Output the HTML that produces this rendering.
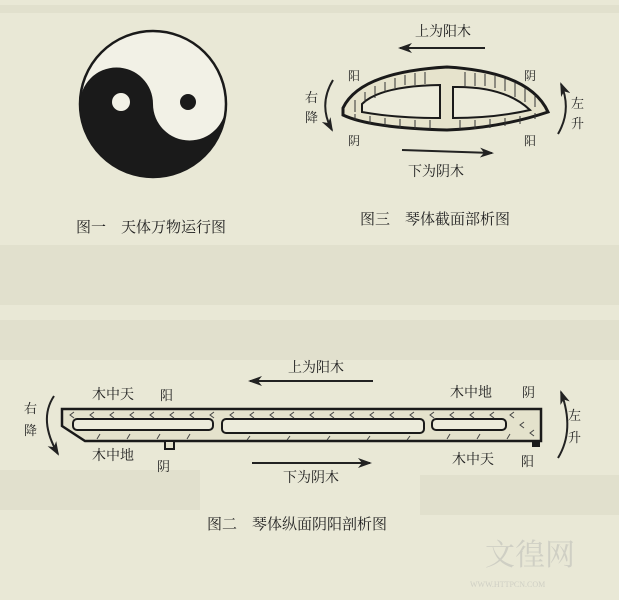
<!DOCTYPE html>
<html><head><meta charset="utf-8"><style>
html,body{margin:0;padding:0;background:#e9e8d6;}
svg{display:block}
text{font-family:"Liberation Serif","Noto Serif CJK SC","Noto Sans CJK SC",serif;fill:#222;}
</style></head><body>
<svg width="619" height="600" viewBox="0 0 619 600" xmlns="http://www.w3.org/2000/svg">
<defs>
<marker id="al" markerUnits="userSpaceOnUse" markerWidth="14" markerHeight="10" refX="12" refY="5" orient="auto"><path d="M0,0 L14,5 L0,10 L4,5 Z" fill="#222"/></marker>
</defs>
<rect width="619" height="600" fill="#e9e8d6"/>
<g fill="#e1e0cd">
<rect x="0" y="5" width="619" height="8"/>
<rect x="0" y="245" width="619" height="60"/><rect x="0" y="320" width="619" height="40"/>
<rect x="420" y="475" width="199" height="40"/><rect x="0" y="470" width="200" height="40"/>
</g>
<!-- Fig 1 yin yang -->
<g transform="translate(153,104)">
<circle r="73" fill="#f2f1e6" stroke="#1a1a1a" stroke-width="2.5"/>
<path d="M-73,0 A73,73 0 0 0 73,0 A36.5,36.5 0 0 1 0,0 A36.5,36.5 0 0 0 -73,0 Z" fill="#1a1a1a"/>
<circle cx="-32" cy="-2" r="9" fill="#f2f1e6"/>
<circle cx="35" cy="-2" r="8" fill="#1a1a1a"/>
</g>
<text x="76" y="232" font-size="15">图一　天体万物运行图</text>

<!-- Fig 3 -->
<text x="415" y="36" font-size="14">上为阳木</text>
<line x1="485" y1="48" x2="400" y2="48" stroke="#222" stroke-width="2" marker-end="url(#al)"/>
<path d="M343,108 Q360,72 447,67 Q530,72 548,112 Q500,128 447,130 Q370,128 343,115 Z" fill="#e6e3cc" stroke="#1a1a1a" stroke-width="3"/>
<path d="M362,104 Q380,86 440,85 L440,118 Q395,118 362,112 Z" fill="#ecebdb" stroke="#1a1a1a" stroke-width="2"/>
<path d="M453,87 Q505,86 530,110 Q495,118 453,118 Z" fill="#ecebdb" stroke="#1a1a1a" stroke-width="2"/>
<g stroke="#333" stroke-width="1">
<path d="M355,100v12M365,92v10M375,86v12M385,82v10M395,78v10M405,75v10M415,73v12M425,72v12M465,72v14M475,73v13M485,74v12M495,76v12M505,79v12M515,83v14M525,88v14M535,95v12M355,114v6M370,116v8M385,118v8M400,119v9M415,120v9M430,120v9M460,120v9M475,120v9M490,119v9M505,118v8M520,116v8M535,113v6"/>
</g>
<text x="348" y="80" font-size="12">阳</text>
<text x="524" y="80" font-size="12">阴</text>
<text x="348" y="145" font-size="12">阴</text>
<text x="524" y="145" font-size="12">阳</text>
<text x="305" y="102" font-size="13">右</text><text x="305" y="122" font-size="13">降</text>
<text x="571" y="108" font-size="13">左</text><text x="571" y="128" font-size="13">升</text>
<path d="M333,80 Q318,105 332,130" fill="none" stroke="#222" stroke-width="2" marker-end="url(#al)"/>
<path d="M558,134 Q572,110 561,84" fill="none" stroke="#222" stroke-width="2" marker-end="url(#al)"/>
<line x1="402" y1="150" x2="492" y2="153" stroke="#222" stroke-width="2" marker-end="url(#al)"/>
<text x="408" y="176" font-size="14">下为阴木</text>
<text x="360" y="224" font-size="15">图三　琴体截面部析图</text>

<!-- Fig 2 -->
<text x="288" y="372" font-size="14">上为阳木</text>
<line x1="373" y1="381" x2="250" y2="381" stroke="#222" stroke-width="2" marker-end="url(#al)"/>
<text x="92" y="399" font-size="14">木中天</text><text x="160" y="400" font-size="13">阳</text>
<text x="450" y="397" font-size="14">木中地</text><text x="522" y="397" font-size="13">阴</text>
<text x="24" y="413" font-size="13">右</text><text x="24" y="435" font-size="13">降</text>
<text x="568" y="420" font-size="13">左</text><text x="568" y="442" font-size="13">升</text>
<path d="M54,396 Q38,420 58,454" fill="none" stroke="#222" stroke-width="2" marker-end="url(#al)"/>
<path d="M558,458 Q575,430 561,392" fill="none" stroke="#222" stroke-width="2" marker-end="url(#al)"/>
<path d="M62,409 L541,409 L541,441 L85,441 L62,426 Z" fill="#e4e2cc" stroke="#1a1a1a" stroke-width="2.5"/>
<rect x="73" y="419" width="140" height="11" rx="4" fill="#ecebdb" stroke="#1a1a1a" stroke-width="2"/>
<rect x="222" y="419" width="202" height="14" rx="4" fill="#ecebdb" stroke="#1a1a1a" stroke-width="2"/>
<rect x="432" y="419" width="74" height="11" rx="4" fill="#ecebdb" stroke="#1a1a1a" stroke-width="2"/>
<g stroke="#444" stroke-width="1" fill="none">
<path d="M74,412 l-4,3 l4,3 M94,412 l-4,3 l4,3 M114,412 l-4,3 l4,3 M134,412 l-4,3 l4,3 M154,412 l-4,3 l4,3 M174,412 l-4,3 l4,3 M194,412 l-4,3 l4,3 M214,412 l-4,3 l4,3 M234,412 l-4,3 l4,3 M254,412 l-4,3 l4,3 M274,412 l-4,3 l4,3 M294,412 l-4,3 l4,3 M314,412 l-4,3 l4,3 M334,412 l-4,3 l4,3 M354,412 l-4,3 l4,3 M374,412 l-4,3 l4,3 M394,412 l-4,3 l4,3 M414,412 l-4,3 l4,3 M434,412 l-4,3 l4,3 M454,412 l-4,3 l4,3 M474,412 l-4,3 l4,3 M494,412 l-4,3 l4,3 M514,412 l-4,3 l4,3 M524,422 l-4,3 l4,3 M534,430 l-4,3 l4,3"/>
<path d="M100,434 l-3,5 M130,434 l-3,5 M160,434 l-3,5 M190,434 l-3,5 M250,436 l-3,4 M290,436 l-3,4 M330,436 l-3,4 M370,436 l-3,4 M410,436 l-3,4 M450,434 l-3,5 M480,434 l-3,5 M510,434 l-3,5"/>
</g>
<rect x="165" y="441" width="9" height="8" fill="#e4e2cc" stroke="#1a1a1a" stroke-width="2"/>
<rect x="532" y="441" width="8" height="6" fill="#1a1a1a"/>
<text x="92" y="460" font-size="14">木中地</text><text x="157" y="471" font-size="13">阴</text>
<text x="452" y="464" font-size="14">木中天</text><text x="521" y="466" font-size="13">阳</text>
<line x1="252" y1="463" x2="370" y2="463" stroke="#222" stroke-width="2" marker-end="url(#al)"/>
<text x="283" y="482" font-size="14">下为阴木</text>
<text x="207" y="529" font-size="15">图二　琴体纵面阴阳剖析图</text>
<text x="485" y="565" font-size="30" style="fill:#cfcfc4">文徨网</text>
<text x="470" y="587" font-size="8" style="fill:#cfcfc4">WWW.HTTPCN.COM</text>
</svg>
</body></html>
